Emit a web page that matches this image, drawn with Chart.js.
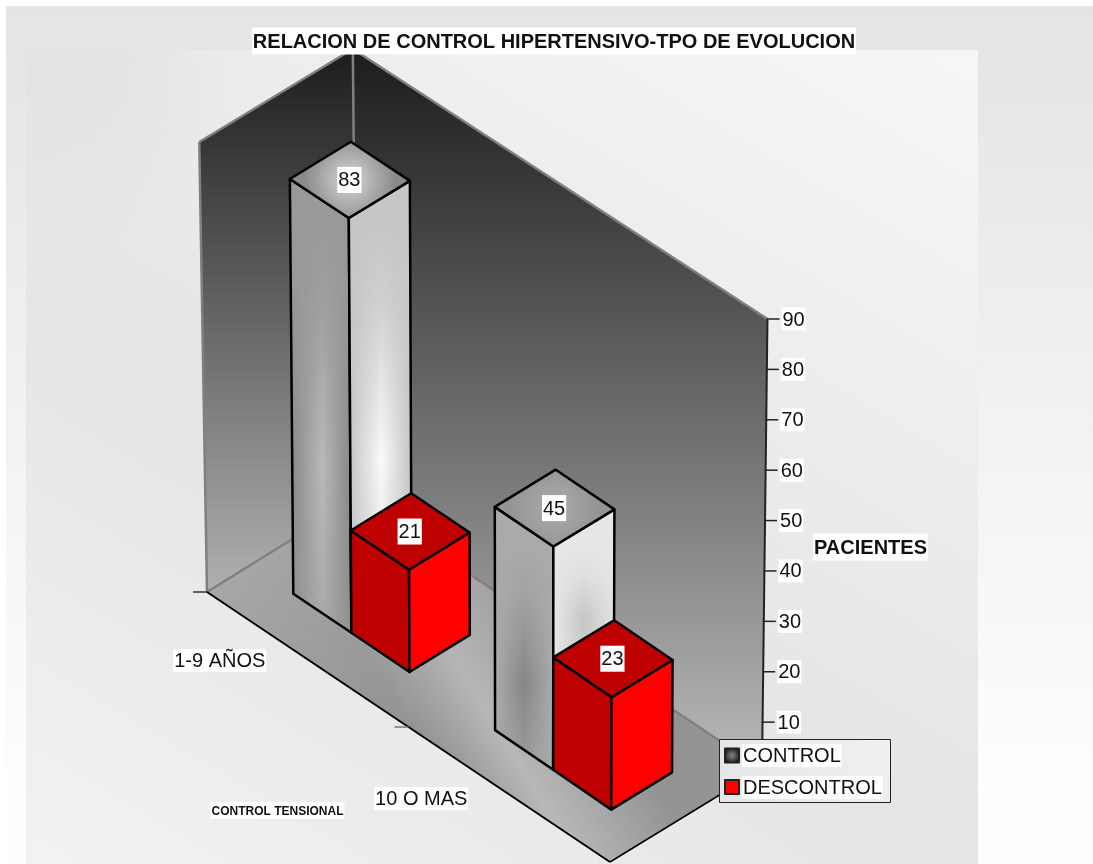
<!DOCTYPE html>
<html>
<head>
<meta charset="utf-8">
<title>Control hipertensivo</title>
<script src="https://cdn.jsdelivr.net/npm/chart.js@4"></script>
<style>
  html, body { margin: 0; padding: 0; background: #fff; overflow: hidden; }
  canvas { display: block; }
</style>
</head>
<body>
<canvas id="myChart" width="1093" height="864"></canvas>
<script>
const chartTitle = "RELACION DE CONTROL HIPERTENSIVO-TPO DE EVOLUCION";
const valueAxisTitle = "PACIENTES";
const categoryAxisTitle = "CONTROL TENSIONAL";
const categories = ["1-9 AÑOS", "10 O MAS"];
const controlValues = [83, 45];
const descontrolValues = [21, 23];
const valueTicks = [10, 20, 30, 40, 50, 60, 70, 80, 90];

const FONT = '"Liberation Sans", Arial, sans-serif';

// floor plane: front-left corner, edge along the categories, edge going back
const floor = { x: 207, y: 592, ax: 403, ay: 270, dx: 150, dy: -93, ex: 2, ey: 0 };
const barDepth = [0.29, 0.69];
const lean = 5.3e-5;
const leanCenter = 532;
const barLean = 0.65;
const barBend = 4;

// the face shading changes a bit from one column to the next
// veil is the flat tone the face fades to away from its band
const barFaces = {
  control: [
    {
      left: ["#8a8a8a", "#bababa", "#868686"],
      leftVeil: "153,153,153",
      leftBand: 0.6,
      right: ["#c8c8c8", "#fafafa", "#c4c4c4"],
      rightVeil: "198,198,198",
      rightBand: 0.58,
      top: ["#d4d4d4", "#8a8a8a"],
    },
    {
      left: ["#ababab", "#868686", "#ababab"],
      leftVeil: "170,170,170",
      leftBand: 0.6,
      right: ["#e8e8e8", "#c6c6c6", "#e2e2e2"],
      rightVeil: "230,230,230",
      rightBand: 0.32,
      top: ["#aaaaaa", "#949494"],
    },
  ],
  descontrol: { left: "#bf0000", right: "#ff0000", top: "#bf0000" },
};

const ctx = document.getElementById("myChart").getContext("2d");

function project(chart, u, d, py, leanFactor = 1) {
  const h = chart.scales.y.bottom - py;
  const bx = floor.x + u * floor.ax + d * floor.dx + u * d * floor.ex;
  const by = floor.y + u * floor.ay + d * floor.dy + u * d * floor.ey;
  return { x: bx - (leanCenter - bx) * lean * leanFactor * h, y: by - h };
}

function poly(c, pts, fill, stroke, width) {
  c.beginPath();
  pts.forEach((p, i) => (i ? c.lineTo(p.x, p.y) : c.moveTo(p.x, p.y)));
  c.closePath();
  if (fill) {
    c.fillStyle = fill;
    c.fill();
  }
  if (stroke) {
    c.strokeStyle = stroke;
    c.lineWidth = width;
    c.lineJoin = "round";
    c.stroke();
  }
}

function line(c, a, b, color, width) {
  c.beginPath();
  c.moveTo(a.x, a.y);
  c.lineTo(b.x, b.y);
  c.strokeStyle = color;
  c.lineWidth = width;
  c.stroke();
}

// text on a white box, the box follows the text width
function label(c, text, x, y, font, boxH, align) {
  c.font = font;
  const w = c.measureText(text).width;
  const left = align === "left" ? x : x - w / 2;
  c.fillStyle = "#fff";
  c.fillRect(left - 1, y - boxH / 2, w + 2, boxH);
  c.fillStyle = "#111";
  c.textAlign = "left";
  c.textBaseline = "middle";
  c.fillText(text, left, y + 1);
}

function horizontalFill(c, a, b, colors) {
  const g = c.createLinearGradient(a.x, 0, b.x, 0);
  colors.forEach((col, i) => g.addColorStop(i / (colors.length - 1), col));
  return g;
}

function drawBackground(c) {
  const page = c.createLinearGradient(0, 6, 0, 800);
  page.addColorStop(0, "#e4e4e4");
  page.addColorStop(1, "#fefefe");
  c.fillStyle = "#fff";
  c.fillRect(0, 0, 1093, 864);
  c.fillStyle = page;
  c.fillRect(6, 6, 1087, 858);

  const panel = c.createLinearGradient(26, 864, 631, -156);
  panel.addColorStop(0, "#f2f2f2");
  panel.addColorStop(0.41, "#e5e5e5");
  panel.addColorStop(1, "#f6f6f6");
  c.fillStyle = panel;
  c.fillRect(26, 50, 952, 814);

  // the panel corner at the top left blends into the page
  const corner = c.createRadialGradient(26, 60, 0, 26, 60, 210);
  corner.addColorStop(0, "rgba(228,228,228,1)");
  corner.addColorStop(0.45, "rgba(228,228,228,1)");
  corner.addColorStop(1, "rgba(228,228,228,0)");
  c.fillStyle = corner;
  c.fillRect(26, 50, 210, 210);
}

function drawWalls(chart) {
  const c = chart.ctx;
  const { top, bottom } = chart.scales.y;
  const leftFront = project(chart, 0, 0, bottom);
  const corner = project(chart, 0, 1, bottom);
  const rightBack = project(chart, 1, 1, bottom);
  const front = project(chart, 1, 0, bottom);
  const leftTop = project(chart, 0, 0, top);
  const cornerTop = project(chart, 0, 1, top);
  const rightTop = project(chart, 1, 1, top);

  const sideFill = c.createLinearGradient(0, cornerTop.y, 0, leftFront.y);
  sideFill.addColorStop(0, "#1c1c1c");
  sideFill.addColorStop(1, "#b0b0b0");
  poly(c, [leftTop, cornerTop, corner, leftFront], sideFill);

  const backFill = c.createLinearGradient(0, cornerTop.y, 0, rightBack.y);
  backFill.addColorStop(0, "#1c1c1c");
  backFill.addColorStop(1, "#b8b8b8");
  poly(c, [cornerTop, rightTop, rightBack, corner], backFill);

  // floor is lightest around the middle of its depth
  const floorPts = [leftFront, corner, rightBack, front];
  const fx = (leftFront.x + front.x) / 2;
  const fy = (leftFront.y + front.y) / 2;
  const floorFill = c.createLinearGradient(fx, fy, (corner.x + rightBack.x) / 2, (corner.y + rightBack.y) / 2);
  floorFill.addColorStop(0, "#8c8c8c");
  floorFill.addColorStop(0.42, "#b8b8b8");
  floorFill.addColorStop(1, "#949494");
  poly(c, floorPts, floorFill);

  const floorLeft = c.createLinearGradient(leftFront.x, leftFront.y, front.x, front.y);
  floorLeft.addColorStop(0, "rgba(171,171,171,0.9)");
  floorLeft.addColorStop(0.65, "rgba(171,171,171,0)");
  poly(c, floorPts, floorLeft);

  const edge = "#808080";
  line(c, leftFront, leftTop, edge, 2.5);
  line(c, leftTop, cornerTop, edge, 2.5);
  line(c, cornerTop, corner, edge, 2.5);
  line(c, cornerTop, rightTop, edge, 2.5);
  line(c, leftFront, corner, edge, 2.5);
  line(c, corner, rightBack, edge, 2.5);

  line(c, leftFront, front, "#000", 2);
  line(c, front, rightBack, "#000", 1.5);
  line(c, rightTop, rightBack, "#222", 2);
}

function drawAxes(chart) {
  const c = chart.ctx;
  const y = chart.scales.y;
  const x = chart.scales.x;

  y.ticks.forEach((t) => {
    const p = project(chart, 1, 1, y.getPixelForValue(t.value));
    line(c, { x: p.x - 1, y: p.y }, { x: p.x + 12, y: p.y }, "#222", 1.5);
    label(c, String(t.value), p.x + 15, p.y, "20px " + FONT, 23, "left");
  });

  categories.forEach((name, i) => {
    const center = (x.getPixelForValue(i) - x.left) / x.width;
    const edgeU = i / categories.length;
    const tick = project(chart, edgeU, 0, y.bottom);
    line(c, { x: tick.x - 14, y: tick.y }, tick, i ? "#777" : "#333", 1.5);
    const p = project(chart, center, 0, y.bottom);
    label(c, name, p.x - 88, p.y + 1 + i * 3, "20px " + FONT, 23);
  });
}

// horizontal band first, then the flat tone over it, strongest at the top
function shadedFace(c, pts, colors, veil, band, a, b, yTop, yBottom) {
  poly(c, pts, horizontalFill(c, a, b, colors));
  const fade = c.createLinearGradient(0, yTop, 0, yBottom);
  fade.addColorStop(0, "rgba(" + veil + ",1)");
  fade.addColorStop(band * 0.35, "rgba(" + veil + ",0.8)");
  fade.addColorStop(band, "rgba(" + veil + ",0)");
  fade.addColorStop(1, "rgba(" + veil + ",0.55)");
  poly(c, pts, fade);
  poly(c, pts, null, "#000", 2.5);
}

function drawBar(chart, bar, faces) {
  const c = chart.ctx;
  const x = chart.scales.x;
  const y = chart.scales.y;
  const u0 = (bar.x - bar.width / 2 - x.left) / x.width;
  const u1 = (bar.x + bar.width / 2 - x.left) / x.width;
  const [d0, d1] = barDepth;
  const place = (u, d, py) => {
    const p = project(chart, u, d, py, barLean);
    return { x: p.x, y: p.y + barBend * u * u };
  };
  const corners = (py) => ({
    l: place(u0, d0, py),
    b: place(u1, d0, py),
    r: place(u1, d1, py),
    t: place(u0, d1, py),
  });
  // the axis starts above zero, so the column stands on the floor
  const lo = corners(Math.min(bar.base, y.bottom));
  const hi = corners(bar.y);

  const leftPts = [hi.l, hi.b, lo.b, lo.l];
  const rightPts = [hi.b, hi.r, lo.r, lo.b];
  if (faces.leftVeil) {
    shadedFace(c, leftPts, faces.left, faces.leftVeil, faces.leftBand, lo.l, lo.b, hi.b.y, lo.b.y);
    shadedFace(c, rightPts, faces.right, faces.rightVeil, faces.rightBand, lo.b, lo.r, hi.b.y, lo.b.y);
  } else {
    poly(c, leftPts, faces.left, "#000", 2.5);
    poly(c, rightPts, faces.right, "#000", 2.5);
  }

  let topFill = faces.top;
  if (Array.isArray(faces.top)) {
    const mx = (hi.l.x + hi.r.x) / 2;
    const my = (hi.l.y + hi.r.y) / 2;
    topFill = c.createRadialGradient(mx, my, 2, mx, my, (hi.r.x - hi.l.x) * 0.38);
    topFill.addColorStop(0, faces.top[0]);
    topFill.addColorStop(1, faces.top[1]);
  }
  poly(c, [hi.l, hi.t, hi.r, hi.b], topFill, "#000", 2.5);
  return { x: (hi.l.x + hi.r.x) / 2, y: (hi.l.y + hi.r.y) / 2 };
}

function drawBars(chart) {
  const metaControl = chart.getDatasetMeta(0).data;
  const metaDescontrol = chart.getDatasetMeta(1).data;
  const datasets = chart.data.datasets;
  const labels = [];
  categories.forEach((_, i) => {
    const a = drawBar(chart, metaControl[i], barFaces.control[i]);
    labels.push([datasets[0].data[i], a]);
    const b = drawBar(chart, metaDescontrol[i], barFaces.descontrol);
    labels.push([datasets[1].data[i], b]);
  });
  labels.forEach(([v, p]) => label(chart.ctx, String(v), p.x - 0.5, p.y, "20px " + FONT, 26));
}

function drawLegend(chart) {
  const c = chart.ctx;
  const fill = c.createLinearGradient(719, 803, 891, 739);
  fill.addColorStop(0, "#e6e6e6");
  fill.addColorStop(1, "#f0f0f0");
  c.fillStyle = fill;
  c.fillRect(719, 739, 172, 64);
  c.strokeStyle = "#222";
  c.lineWidth = 1;
  c.strokeRect(719.5, 739.5, 171, 63);

  chart.data.datasets.forEach((ds, i) => {
    const ty = 755.5 + i * 32;
    const sx = 725;
    const sy = 748.5 + i * 31.5;
    if (i === 0) {
      const g = c.createRadialGradient(sx + 7, sy + 7, 1, sx + 7, sy + 7, 8);
      g.addColorStop(0, "#7a7a7a");
      g.addColorStop(1, "#1c1c1c");
      c.fillStyle = g;
    } else {
      c.fillStyle = "#ff0000";
    }
    c.fillRect(sx, sy, 14, 14);
    c.strokeStyle = "#222";
    c.lineWidth = 2;
    c.strokeRect(sx, sy, 14, 14);
    label(c, ds.label, 743, ty, "20px " + FONT, 23, "left");
  });
}

const scene3d = {
  id: "scene3d",
  beforeDatasetsDraw(chart) {
    drawBackground(chart.ctx);
    drawWalls(chart);
    drawAxes(chart);
  },
  afterDatasetsDraw(chart) {
    const c = chart.ctx;
    drawBars(chart);
    label(c, chartTitle, 554, 41, "bold 20px " + FONT, 27);
    label(c, valueAxisTitle, 870.5, 547, "bold 20px " + FONT, 27);
    label(c, categoryAxisTitle, 277.5, 810.5, "bold 12px " + FONT, 17);
    drawLegend(chart);
  },
};

const myChart = new Chart(ctx, {
  type: "bar",
  data: {
    labels: categories,
    datasets: [
      { label: "CONTROL", data: controlValues, backgroundColor: "transparent", categoryPercentage: 0.576, barPercentage: 1 },
      { label: "DESCONTROL", data: descontrolValues, backgroundColor: "transparent", categoryPercentage: 0.576, barPercentage: 1 },
    ],
  },
  options: {
    responsive: false,
    animation: false,
    layout: { padding: { left: 207, right: 326, top: 319, bottom: 95 } },
    plugins: { legend: { display: false }, title: { display: false }, tooltip: { enabled: false } },
    scales: {
      x: { display: false },
      y: {
        display: false,
        min: 0.7,
        max: 90,
        afterBuildTicks: (scale) => {
          scale.ticks = valueTicks.map((value) => ({ value }));
        },
      },
    },
  },
  plugins: [scene3d],
});
</script>
</body>
</html>
